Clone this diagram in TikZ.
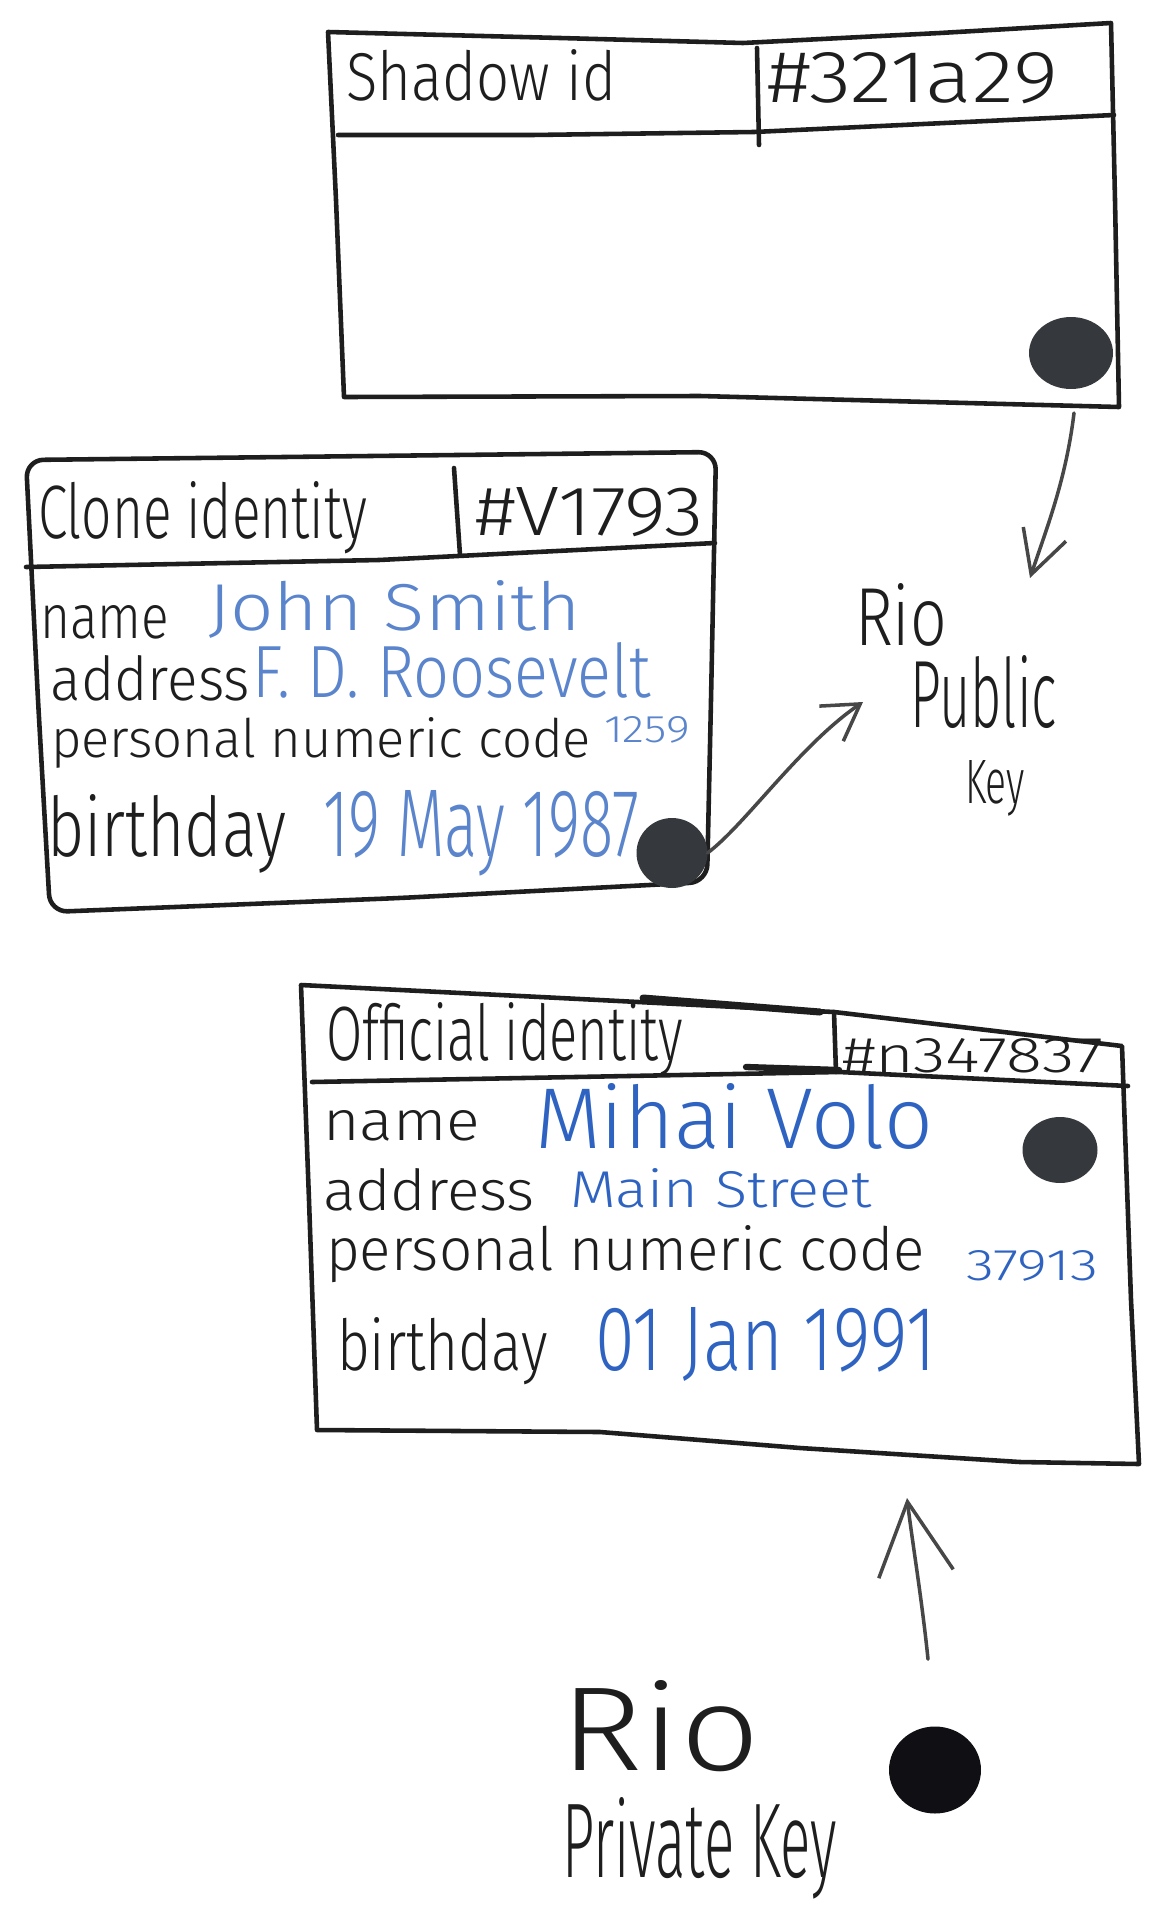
\documentclass[tikz,border=0pt]{standalone}
\usepackage{fontspec}
\usepackage{graphicx}
\setmainfont{Fira Sans}[UprightFont={* Light}]
\usetikzlibrary{arrows.meta,calc,shapes.geometric}
\definecolor{ink}{HTML}{1E1E1E}
\definecolor{blueA}{HTML}{5A84CC}
\definecolor{blueB}{HTML}{2F63C2}
\definecolor{dotc}{HTML}{35383C}
\definecolor{pdotc}{HTML}{101014}
\definecolor{arrowc}{HTML}{474747}
\newdimen\pxu \pxu=0.02cm
\newcommand{\hw}[3]{\resizebox{#1\pxu}{#2\pxu}{#3}}
\begin{document}
\begin{tikzpicture}[x=0.02cm,y=-0.02cm,
  boxline/.style={draw=ink, line width=2.6pt, line cap=round, line join=round},
  txt/.style={anchor=base west, inner sep=0pt, outer sep=0pt, text=ink},
  val/.style={txt, text=blueA},
  valb/.style={txt, text=blueB},
  dotshape/.style={ellipse, fill=dotc, inner sep=0pt, outer sep=0pt},
  arr/.style={draw=arrowc, line width=2pt, line cap=round, line join=round}
]
\fill[white] (0,0) rectangle (1150,1920);
\useasboundingbox (0,0) rectangle (1150,1920);

% ---------- Shadow id box ----------
\draw[boxline] (328,32) -- (560,38) -- (743,43) -- (940,33) -- (1111,23)
  -- (1115,200) -- (1119,407) -- (700,396) -- (344,397) -- (336,200) -- cycle;
\draw[boxline] (338,135) -- (532,135) -- (754,132) -- (1114,115);
\draw[boxline] (757,48) -- (759,145);
\node[txt] (shadowlbl) at (346,100) {\hw{270}{51}{Shadow id}};
\node[txt] (shadowid) at (767,102) {\hw{291}{50}{\#321a29}};
\node[dotshape, minimum width=1.68cm, minimum height=1.44cm] (sdot) at (1071,353) {};

% ---------- Clone identity box ----------
\draw[boxline, rounded corners=10pt] (26,460) -- (370,456) -- (716,452) -- (711,700) -- (707,882)
  -- (400,898) -- (50,912) -- (38,700) -- cycle;
\draw[boxline] (26,567) -- (379,560) -- (715,543);
\draw[boxline] (454,468) -- (460,555);
\node[txt] (clonelbl) at (38,538) {\hw{329}{57}{Clone identity}};
\node[txt] (cloneid) at (475,535) {\hw{229}{48}{\#V1793}};
\node[txt] (cname) at (40,638) {\hw{129}{33}{name}};
\node[val] (cnamev) at (208,630) {\hw{373}{50}{John Smith}};
\node[txt] (caddr) at (51,700) {\hw{199}{45}{address}};
\node[val] (caddrv) at (252,697) {\hw{399}{55}{F. D. Roosevelt}};
\node[txt] (cpnc) at (51,757) {\hw{540}{40}{personal numeric code}};
\node[val] (cpncv) at (604,742) {\hw{86}{26}{1259}};
\node[txt] (cbday) at (47,856) {\hw{239}{62}{birthday}};
\node[val] (cbdayv) at (323,856) {\hw{316}{66}{19 May 1987}};
\node[dotshape, minimum width=1.42cm, minimum height=1.4cm] (cdot) at (672,853) {};

% ---------- Official identity box ----------
\draw[boxline] (301,985) -- (560,998) -- (834,1012) -- (1122,1046)
  -- (1131,1300) -- (1139,1464) -- (1020,1462) -- (800,1448) -- (600,1432) -- (317,1430) -- (309,1200) -- cycle;
\draw[boxline, line width=4pt] (643,998) -- (820,1012);
\draw[boxline] (312,1082) -- (839,1072) -- (1128,1086);
\draw[boxline, line width=3.6pt] (746,1067) -- (839,1070);
\draw[boxline] (834,1012) -- (836,1072);
\node[txt] (offlbl) at (326,1060) {\hw{357}{58}{Official identity}};
\node[txt] (offid) at (842,1072) {\hw{261}{34}{\#n347837}};
\node[txt] (oname) at (323,1140) {\hw{157}{30}{name}};
\node[valb] (onamev) at (535,1148) {\hw{398}{65}{Mihai Volo}};
\node[dotshape, minimum width=1.5cm, minimum height=1.32cm] (odot) at (1060,1150) {};
\node[txt] (oaddr) at (323,1210) {\hw{212}{42}{address}};
\node[valb] (oaddrv) at (570,1207) {\hw{302}{39}{Main Street}};
\node[txt] (opnc) at (326,1270) {\hw{599}{45}{personal numeric code}};
\node[valb] (opncv) at (966,1280) {\hw{132}{30}{37913}};
\node[txt] (obday) at (337,1370) {\hw{211}{53}{birthday}};
\node[valb] (obdayv) at (595,1370) {\hw{341}{63}{01 Jan 1991}};
\coordinate (offin) at (907,1498);

% ---------- Rio Public Key ----------
\node[txt] (rio1) at (855,645) {\hw{92}{62}{Rio}};
\node[txt] (pub1) at (910,727) {\hw{147}{72}{Public}};
\node[txt] (key1) at (965,803) {\hw{60}{43}{Key}};
\coordinate (pubin1) at (1030,578);
\coordinate (pubin2) at (863,702);

% ---------- Rio Private Key ----------
\node[txt] (rio2) at (560,1770) {\hw{200}{90}{Rio}};
\node[txt] (priv) at (562,1877) {\hw{275}{80}{Private Key}};
\node[ellipse, fill=pdotc, inner sep=0pt, minimum width=1.84cm, minimum height=1.74cm] (pdot) at (935,1770) {};

% ---------- connectors ----------
\draw[arr, -{Straight Barb[length=0.85cm,width=0.9cm]}]
  ($(sdot.south)+(3,24)$) .. controls (1066,480) and (1046,530) .. (pubin1);
\draw[arr, -{Straight Barb[length=0.7cm,width=0.85cm]}]
  (cdot.east) .. controls (745,825) and (800,745) .. (pubin2);
\draw[arr, -{Straight Barb[length=1.45cm,width=1.5cm]}]
  ($(pdot.north)+(-7,-67)$) .. controls (922,1600) and (912,1540) .. (offin);
\end{tikzpicture}
\end{document}
